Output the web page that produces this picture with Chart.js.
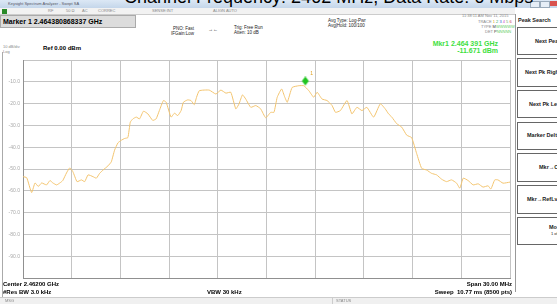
<!DOCTYPE html>
<html>
<head>
<meta charset="utf-8">
<script src="https://cdn.jsdelivr.net/npm/chart.js@4.4.1/dist/chart.umd.min.js"></script>
<style>
  html, body { margin: 0; padding: 0; }
  body { width: 557px; height: 304px; position: relative; overflow: hidden; background: #fff;
         font-family: "Liberation Sans", Arial, sans-serif; color: #000; }
  .abs { position: absolute; white-space: nowrap; line-height: 1; }
  #titlebar { left: 0; top: 0; width: 557px; height: 8px; background: linear-gradient(#dce8f5, #c4d6ea); }
  #toolbar { left: 0; top: 8px; width: 515px; height: 6px; background: #f2f2f2; border-bottom: 1px solid #ccc; }
  #mkrbox { left: 0; top: 15px; width: 134px; height: 11px; background: #dcdcdc; border: 1px solid #aaa; }
  .tiny { font-size: 4px; color: #888; }
  .small { font-size: 5px; color: #222; }
  .bold { font-weight: bold; }
  .green { color: #3ee03e; font-weight: bold; font-size: 7px; }
  #panel { left: 515px; top: 14px; width: 42px; height: 278px; background: #fff; border-left: 1px solid #999; }
  .btn { position: absolute; left: 517px; width: 60px; border: 1px solid #666; border-right: none; background: #fff; }
  .btxt { position: absolute; font-size: 5.5px; font-weight: bold; color: #222; white-space: nowrap; }
  #status { left: 0; top: 297px; width: 557px; height: 7px; background: #f0f0f0; border-top: 1px solid #ccc; }
  #wrap { position: absolute; left: 0; top: 54px; width: 516px; height: 230px; }
  #bigtitle { left: 124px; top: -12px; font-size: 18px; color: #000; z-index: 5; }
</style>
</head>
<body>
<div class="abs" id="titlebar"></div>
<div class="abs tiny" style="left:8px;top:2px;color:#556;">Keysight Spectrum Analyzer - Swept SA</div>
<div class="abs" style="left:530px;top:1px;width:8px;height:5px;background:#e6eef7;border:1px solid #9ab;"></div>
<div class="abs" style="left:540px;top:1px;width:8px;height:5px;background:#e6eef7;border:1px solid #9ab;"></div>
<div class="abs" style="left:550px;top:1px;width:7px;height:5px;background:#d9534f;"></div>
<div class="abs" id="toolbar"></div>
<div class="abs tiny" style="left:2px;top:9px;width:5px;height:5px;background:#2a8a2a;"></div>
<div class="abs tiny" style="left:48px;top:9px;">RF</div>
<div class="abs tiny" style="left:66px;top:9px;">50 Ω</div>
<div class="abs tiny" style="left:82px;top:9px;">AC</div>
<div class="abs tiny" style="left:98px;top:9px;">CORREC</div>
<div class="abs tiny" style="left:152px;top:9px;">SENSE:INT</div>
<div class="abs tiny" style="left:213px;top:9px;">ALIGN AUTO</div>
<div class="abs" id="mkrbox"></div>
<div class="abs bold" style="left:3px;top:18px;font-size:7px;">Marker 1 2.464380868337 GHz</div>

<div class="abs small" style="left:173px;top:27px;font-size:4.5px;">PNO: Fast</div>
<div class="abs small" style="left:171px;top:32px;font-size:4.5px;">IFGain:Low</div>
<div class="abs small" style="left:208px;top:27px;font-size:5px;">→←</div>
<div class="abs small" style="left:234px;top:26px;font-size:4.5px;">Trig: Free Run</div>
<div class="abs small" style="left:234px;top:31px;font-size:4.5px;">Atten: 10 dB</div>
<div class="abs small" style="left:328px;top:19px;font-size:4.5px;">Avg Type: Log-Pwr</div>
<div class="abs small" style="left:328px;top:24px;font-size:4.5px;">Avg|Hold: 100/100</div>
<div class="abs tiny" style="left:462px;top:14px;">11:38:11 AM Nov 11, 2015</div>
<div class="abs tiny" style="left:478px;top:20px;">TRACE <span style="color:#d9a400">1</span> <span style="color:#2a6">2</span> <span style="color:#26c">3</span> <span style="color:#c4c">4</span> <span style="color:#6a6">5</span> <span style="color:#c44">6</span></div>
<div class="abs tiny" style="left:481px;top:25px;">TYPE <span style="color:#333">M</span><span style="color:#6c6">WWWWW</span></div>
<div class="abs tiny" style="left:485px;top:30px;">DET <span style="color:#333">P</span><span style="color:#6c6">NNNNN</span></div>
<div class="abs green" style="right:59px;top:40px;text-align:right;">Mkr1 2.464 391 GHz</div>
<div class="abs green" style="right:59px;top:47px;text-align:right;">-11.671 dBm</div>
<div class="abs tiny" style="left:3px;top:45px;">10 dB/div</div>
<div class="abs tiny" style="left:3px;top:50px;">Log</div>
<div class="abs bold" style="left:43px;top:45px;font-size:6px;">Ref 0.00 dBm</div>

<div class="abs" style="left:2px;top:52px;width:1px;height:245px;background:#aaa;"></div>

<div id="wrap"><canvas id="c"></canvas></div>

<div class="abs bold" style="left:3px;top:281px;font-size:6px;">Center 2.46200 GHz</div>
<div class="abs bold" style="left:3px;top:289px;font-size:6px;">#Res BW 3.0 kHz</div>
<div class="abs bold" style="left:207px;top:289px;font-size:6px;">VBW 30 kHz</div>
<div class="abs bold" style="right:45px;top:281px;font-size:6px;text-align:right;">Span 30.00 MHz</div>
<div class="abs bold" style="right:45px;top:289px;font-size:6px;text-align:right;">Sweep&nbsp; 10.77 ms (8500 pts)</div>

<div class="abs" id="panel"></div>
<div class="btxt" style="left:518px;top:17px;">Peak Search</div>
<div class="btn" style="top:27px;height:26px;"></div>
<div class="btxt" style="left:535px;top:38px;">Next Peak</div>
<div class="btn" style="top:58px;height:27px;"></div>
<div class="btxt" style="left:525px;top:69px;">Next Pk Right</div>
<div class="btn" style="top:90px;height:26px;"></div>
<div class="btxt" style="left:529px;top:101px;">Next Pk Left</div>
<div class="btn" style="top:122px;height:26px;"></div>
<div class="btxt" style="left:527px;top:132px;">Marker Delta</div>
<div class="btn" style="top:153px;height:27px;"></div>
<div class="btxt" style="left:539px;top:164px;">Mkr→CF</div>
<div class="btn" style="top:185px;height:27px;"></div>
<div class="btxt" style="left:527px;top:196px;">Mkr→RefLvl</div>
<div class="btn" style="top:217px;height:26px;"></div>
<div class="btxt" style="left:549px;top:224px;">More</div>
<div class="btxt" style="left:551px;top:231px;font-weight:normal;font-size:4px;">1 of 2</div>

<div class="abs" id="status"></div>
<div class="abs tiny" style="left:5px;top:299px;">MSG</div>
<div class="abs" style="left:332px;top:298px;width:1px;height:6px;background:#ccc;"></div>
<div class="abs tiny" style="left:336px;top:299px;">STATUS</div>

<div class="abs" id="bigtitle">Channel Frequency: 2462 MHz, Data Rate: 6 Mbps</div>

<script>
// sweep: 2447 - 2477 MHz (center 2462, span 30)
const freqMHz = [
  2447.0, 2447.23, 2447.53, 2447.74, 2447.94, 2448.15, 2448.45, 2448.66, 2448.84, 2449.07,
  2449.27, 2449.45, 2449.68, 2449.88, 2450.07, 2450.33, 2450.60, 2450.80, 2451.01, 2451.31,
  2451.52, 2451.72, 2451.93, 2452.23, 2452.44, 2452.64, 2452.85, 2453.06, 2453.26, 2453.46,
  2453.61, 2453.77, 2453.98, 2454.18, 2454.42, 2454.69, 2454.99, 2455.20, 2455.40, 2455.65,
  2455.82, 2456.12, 2456.33, 2456.53, 2456.74, 2456.88, 2457.14, 2457.35, 2457.55, 2457.69,
  2457.86, 2458.47, 2458.88, 2459.19, 2459.50, 2459.80, 2460.11, 2460.31, 2460.52, 2460.72,
  2461.03, 2461.34, 2461.64, 2461.95, 2462.26, 2462.46, 2462.66, 2462.93, 2463.13, 2463.28,
  2463.58, 2463.99, 2464.30, 2464.61, 2464.91, 2465.12, 2465.42, 2465.73, 2466.04, 2466.25,
  2466.55, 2466.96, 2467.26, 2467.57, 2467.88, 2468.18, 2468.60, 2469.01, 2469.31, 2469.52,
  2469.72, 2470.02, 2470.33, 2470.64, 2470.94, 2471.25, 2471.56, 2471.87, 2472.17, 2472.48,
  2472.79, 2473.09, 2473.40, 2473.71, 2473.91, 2474.12, 2474.42, 2474.73, 2475.04, 2475.34,
  2475.65, 2475.82, 2476.06, 2476.26, 2476.57, 2477.0
];
const levelDbm = [
  -53.5, -54.0, -60.8, -56.4, -58.0, -56.4, -57.3, -55.3, -56.4, -57.3,
  -56.4, -55.3, -51.8, -49.5, -51.2, -55.8, -55.0, -55.8, -52.7, -53.5,
  -54.2, -52.0, -50.5, -48.6, -46.7, -41.4, -38.0, -36.8, -36.0, -35.6,
  -28.5, -27.0, -26.2, -27.0, -23.5, -24.7, -27.7, -27.0, -23.2, -18.6,
  -19.4, -26.2, -24.4, -25.5, -23.2, -19.4, -18.3, -18.6, -20.5, -17.1,
  -14.1, -13.8, -15.6, -13.8, -15.2, -14.8, -22.4, -20.1, -16.0, -17.9,
  -21.7, -20.9, -22.4, -26.5, -24.0, -24.0, -17.1, -13.3, -17.1, -19.4,
  -12.6, -11.8, -11.8, -14.1, -17.1, -14.8, -17.9, -18.6, -20.9, -24.0,
  -23.2, -18.6, -24.7, -21.7, -23.2, -21.7, -26.2, -20.1, -22.4, -24.7,
  -26.2, -29.2, -30.8, -34.5, -35.6, -42.9, -49.7, -50.5, -52.0, -52.7,
  -54.7, -55.8, -55.0, -56.5, -58.8, -54.2, -55.3, -57.3, -56.8, -58.3,
  -57.7, -59.2, -55.0, -55.0, -56.5, -56.0
];
const markerFreq = [2464.391];
const markerLevel = [-11.671];
const yTicks = ["", "-10.0", "-20.0", "-30.0", "-40.0", "-50.0", "-60.0", "-70.0", "-80.0", "-90.0", ""];

// green diamond drawn a bit above the marked point, like the analyzer does
const mk = document.createElement("canvas");
mk.width = 10; mk.height = 18;
const mctx = mk.getContext("2d");
mctx.fillStyle = "#1fc51f";
mctx.beginPath();
mctx.moveTo(5, 0); mctx.lineTo(8.5, 4.5); mctx.lineTo(5, 9); mctx.lineTo(1.5, 4.5);
mctx.closePath(); mctx.fill();

const labelPlugin = {
  id: "mkrLabel",
  afterDatasetsDraw(chart) {
    const p = chart.getDatasetMeta(1).data[0];
    const ctx = chart.ctx;
    ctx.save();
    ctx.fillStyle = "#e0a020";
    ctx.font = "5px Liberation Sans, Arial";
    ctx.fillText("1", p.x + 5, p.y - 10);
    ctx.restore();
  }
};

new Chart(document.getElementById("c"), {
  type: "line",
  data: {
    datasets: [
      {
        data: freqMHz.map((f, i) => ({ x: f, y: levelDbm[i] })),
        borderColor: "#f3c46e",
        borderWidth: 1,
        pointRadius: 0,
        tension: 0.15
      },
      {
        data: markerFreq.map((f, i) => ({ x: f, y: markerLevel[i] })),
        showLine: false,
        pointStyle: mk,
        pointRadius: 5
      }
    ]
  },
  options: {
    responsive: true,
    maintainAspectRatio: false,
    animation: false,
    layout: { padding: { top: 5, right: 4, bottom: 5, left: 0 } },
    plugins: { legend: { display: false }, tooltip: { enabled: false } },
    scales: {
      x: {
        type: "linear",
        min: 2447,
        max: 2477,
        ticks: { display: false, stepSize: 3 },
        grid: { color: "#c4c4c4", lineWidth: 1, drawTicks: false },
        border: { color: "#909090" },
        afterFit: (s) => { s.height = 0; }
      },
      y: {
        min: -100,
        max: 0,
        ticks: {
          stepSize: 10,
          color: "#a8a8a8",
          font: { size: 5, family: "Liberation Sans" },
          padding: 3,
          callback: (v) => yTicks[Math.round(-v / 10)]
        },
        grid: { color: "#c4c4c4", lineWidth: 1, drawTicks: false },
        border: { color: "#909090" },
        afterFit: (s) => { s.width = 23; }
      }
    }
  },
  plugins: [labelPlugin]
});
</script>
</body>
</html>
